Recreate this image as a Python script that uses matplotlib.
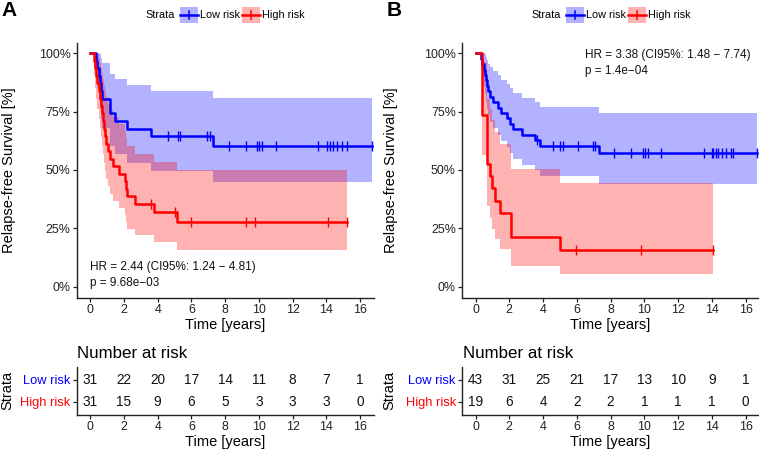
import numpy as np
import matplotlib
matplotlib.use("Agg")
import matplotlib.pyplot as plt
from matplotlib.patches import Rectangle
from matplotlib.lines import Line2D

plt.rcParams['font.family'] = ['Liberation Sans', 'DejaVu Sans']

# ---------------- data ----------------
# Panel A, Low risk
A_low_t = [0, .37, .43, .50, .56, .63, .70, 1.2, 1.5, 2.19, 3.61, 7.28, 16.68]
A_low_s = [1, .968, .935, .903, .871, .839, .806, .742, .710, .677, .645, .602, .602]
A_low_lo = [1, .908, .852, .805, .761, .719, .678, .603, .567, .531, .497, .449, .449]
A_low_hi = [1, 1, 1, 1, .997, .979, .958, .913, .889, .864, .838, .808, .808]
A_low_cens = [4.63, 5.22, 5.34, 6.92, 7.08, 8.2, 9.25, 9.88, 10.02, 10.21, 11.02,
              13.53, 14.02, 14.22, 14.41, 14.62, 14.91, 15.24, 16.68]
# Panel A, High risk
A_high_t = [0, .24, .30, .36, .43, .50, .57, .64, .70, .76, .82, .89, .96, 1.05, 1.2,
            1.38, 1.7, 2.05, 2.14, 2.19, 2.68, 3.8, 5.12, 15.21]
A_high_s = [1, .968, .935, .903, .871, .839, .806, .774, .742, .710, .677, .645, .613,
            .581, .548, .516, .484, .452, .419, .387, .355, .319, .279, .279]
A_high_lo = [1, .908, .853, .805, .761, .719, .679, .640, .603, .567, .531, .497, .463,
             .431, .398, .367, .336, .306, .277, .249, .221, .190, .156, .156]
A_high_hi = [1, 1, 1, 1, .997, .979, .958, .936, .913, .889, .864, .838, .811,
             .783, .755, .726, .696, .666, .635, .603, .570, .536, .499, .499]
A_high_cens = [3.61, 5.05, 5.99, 9.23, 9.74, 14.12, 15.21]

# Panel B, Low risk
B_low_t = [0, .30, .40, .48, .55, .61, .67, .74, .84, 1.05, 1.34, 1.54, 1.84, 2.03,
           2.23, 2.73, 3.51, 3.81, 7.31, 16.7]
B_low_s = [1, .977, .953, .930, .907, .884, .860, .837, .814, .791, .767, .744, .721,
           .698, .674, .651, .628, .604, .572, .572]
B_low_lo = [1, .933, .893, .857, .824, .793, .763, .734, .706, .678, .651, .625, .599,
            .573, .548, .523, .499, .474, .439, .439]
B_low_hi = [1, 1, 1, 1, .998, .985, .971, .955, .939, .922, .905, .887, .868,
            .849, .830, .810, .790, .770, .745, .745]
B_low_cens = [3.62, 4.6, 5.0, 5.19, 6.08, 6.97, 7.07, 8.2, 9.24, 9.9, 10.03, 10.23,
              11.02, 13.53, 13.99, 14.08, 14.24, 14.38, 14.58, 14.87, 15.16, 15.26, 16.7]
# Panel B, High risk
B_high_t = [0, .36, .68, .85, .95, 1.14, 1.44, 2.13, 5.0, 14.08]
B_high_s = [1, .737, .526, .474, .421, .368, .316, .211, .158, .158]
B_high_lo = [1, .563, .344, .295, .249, .205, .163, .088, .056, .056]
B_high_hi = [1, .964, .806, .761, .713, .664, .612, .503, .446, .446]
B_high_cens = [5.93, 9.78, 14.08]

risk_times = [0, 2, 4, 6, 8, 10, 12, 14, 16]
A_low_risk = [31, 22, 20, 17, 14, 11, 8, 7, 1]
A_high_risk = [31, 15, 9, 6, 5, 3, 3, 3, 0]
B_low_risk = [43, 31, 25, 21, 17, 13, 10, 9, 1]
B_high_risk = [19, 6, 4, 2, 2, 1, 1, 1, 0]

strata = ["Low risk", "High risk"]
y_ticks = [0, 0.25, 0.5, 0.75, 1.0]
y_ticklabels = ["0%", "25%", "50%", "75%", "100%"]
hr_A = ["HR = 2.44 (CI95%: 1.24 \u2212 4.81)", "p = 9.68e\u221203"]
hr_B = ["HR = 3.38 (CI95%: 1.48 \u2212 7.74)", "p = 1.4e\u221204"]

BLUE = "#0000FF"
RED = "#FF0000"
AXC = "#222222"

W, H = 759, 450
fig = plt.figure(figsize=(W / 100, H / 100), dpi=100)


def add_ax(left, right, top, bottom):
    return fig.add_axes([left / W, 1 - bottom / H, (right - left) / W, (bottom - top) / H])


def style(ax):
    for s in ["top", "right"]:
        ax.spines[s].set_visible(False)
    for s in ["left", "bottom"]:
        ax.spines[s].set_color(AXC)
        ax.spines[s].set_linewidth(1.0)
    ax.tick_params(direction="out", length=3, width=0.9, color=AXC,
                   labelsize=8.9, labelcolor="#222222", pad=1.5)


def draw_group(ax, t, s, lo, hi, cens, col):
    t = np.asarray(t); s = np.asarray(s)
    ax.fill_between(t, lo, hi, step="post", color=col, alpha=0.3, lw=0)
    ax.step(t, s, where="post", color=col, lw=1.8)
    idx = np.searchsorted(t, cens, side="right") - 1
    ax.plot(cens, s[idx], ls="none", marker="|", ms=6.5, mew=1.0, color=col, clip_on=False)


def panel(x0, right, groups, hr, hr_pos, risk_low, risk_high):
    ax = add_ax(x0, right, 42.7, 297.7)
    style(ax)
    for g in groups:
        draw_group(ax, *g)
    ax.set_xlim(-0.8, 16.8)
    ax.set_ylim(-0.047, 1.045)
    ax.set_xticks(risk_times)
    ax.set_yticks(y_ticks)
    ax.set_yticklabels(y_ticklabels, fontsize=8.9)
    ax.text(hr_pos[0], hr_pos[1], hr[0], fontsize=8.5, ha="left", va="center", color="#111111")
    ax.text(hr_pos[0], hr_pos[1] - 0.071, hr[1], fontsize=8.5, ha="left", va="center", color="#111111")

    # risk table
    ar = add_ax(x0, right, 366.7, 415)
    style(ar)
    ar.set_xlim(-0.8, 16.8)
    ar.set_ylim(0.4, 2.6)
    ar.set_xticks(risk_times)
    ar.set_yticks([2, 1])
    ar.set_yticklabels(strata, fontsize=9.3)
    for lab, c in zip(ar.get_yticklabels(), [BLUE, RED]):
        lab.set_color(c)
    for tt, a, b in zip(risk_times, risk_low, risk_high):
        ar.text(tt, 2, str(a), ha="center", va="center", fontsize=9.8, color="#111111")
        ar.text(tt, 1, str(b), ha="center", va="center", fontsize=9.8, color="#111111")


panel(76.7, 373.6,
      [(A_low_t, A_low_s, A_low_lo, A_low_hi, A_low_cens, BLUE),
       (A_high_t, A_high_s, A_high_lo, A_high_hi, A_high_cens, RED)],
      hr_A, (0.0, 0.086), A_low_risk, A_high_risk)
panel(462.0, 759.0,
      [(B_low_t, B_low_s, B_low_lo, B_low_hi, B_low_cens, BLUE),
       (B_high_t, B_high_s, B_high_lo, B_high_hi, B_high_cens, RED)],
      hr_B, (6.48, 0.993), B_low_risk, B_high_risk)

# overlay in pixel coordinates for labels / legends
ov = fig.add_axes([0, 0, 1, 1], zorder=-1)
ov.set_xlim(0, W)
ov.set_ylim(H, 0)
ov.axis("off")

for off, letter, cx, ylx in [(0, "A", 225.0, 9.5), (386, "B", 610.5, 391.5)]:
    ov.text(1 + off, 11, letter, fontsize=15, fontweight="bold", ha="left", va="center")
    ov.text(ylx, 170.2, "Relapse-free Survival [%]", rotation=90, fontsize=10.5,
            ha="center", va="center")
    ov.text(cx, 325, "Time [years]", fontsize=10.5, ha="center", va="center")
    ov.text(cx, 441.7, "Time [years]", fontsize=10.5, ha="center", va="center")
    ov.text(76.7 + off, 353.3, "Number at risk", fontsize=12.2, ha="left", va="center")
    ov.text(ylx - 2, 390.8, "Strata", rotation=90, fontsize=10.5, ha="center", va="center")
    # legend
    yc = 15.3
    ov.text(145.7 + off, yc, "Strata", fontsize=7.8, ha="left", va="center")
    for kx, col, lab in [(180.0, BLUE, "Low risk"), (241.7, RED, "High risk")]:
        ov.add_patch(Rectangle((kx + off, 7.3), 18.3, 16, facecolor=col, alpha=0.3, lw=0))
        ov.add_line(Line2D([kx + off, kx + 18.3 + off], [yc, yc], color=col, lw=1.8))
        ov.add_line(Line2D([kx + 9.15 + off] * 2, [yc - 4, yc + 4], color=col, lw=1.1))
        ov.text(kx + 20.5 + off, yc, lab, fontsize=7.8, ha="left", va="center")

fig.savefig("out.png", dpi=100)
